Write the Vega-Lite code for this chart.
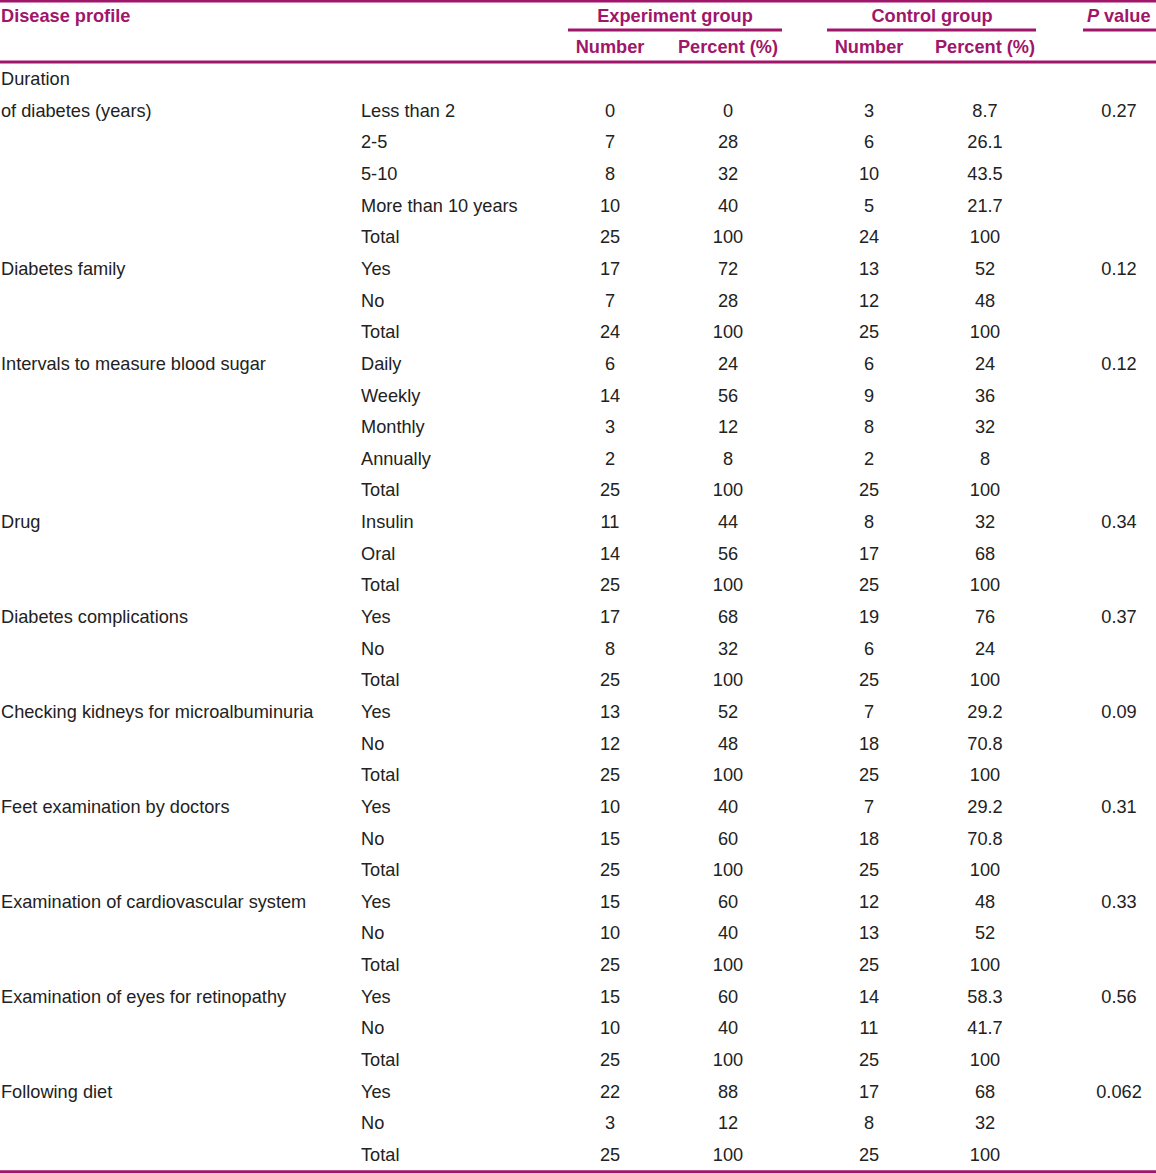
{
  "$schema": "https://vega.github.io/schema/vega-lite/v6.json",
  "autosize": {"type": "none"},
  "width": 1156,
  "height": 1174,
  "padding": 0,
  "background": "white",
  "config": {"view": {"stroke": null}},
  "datasets": {
    "body": [
      {"r": 2, "profile": "Duration"},
      {"r": 3, "profile": "of diabetes (years)", "cat": "Less than 2", "en": "0", "ep": "0", "cn": "3", "cp": "8.7", "p": "0.27"},
      {"r": 4, "cat": "2-5", "en": "7", "ep": "28", "cn": "6", "cp": "26.1"},
      {"r": 5, "cat": "5-10", "en": "8", "ep": "32", "cn": "10", "cp": "43.5"},
      {"r": 6, "cat": "More than 10 years", "en": "10", "ep": "40", "cn": "5", "cp": "21.7"},
      {"r": 7, "cat": "Total", "en": "25", "ep": "100", "cn": "24", "cp": "100"},
      {"r": 8, "profile": "Diabetes family", "cat": "Yes", "en": "17", "ep": "72", "cn": "13", "cp": "52", "p": "0.12"},
      {"r": 9, "cat": "No", "en": "7", "ep": "28", "cn": "12", "cp": "48"},
      {"r": 10, "cat": "Total", "en": "24", "ep": "100", "cn": "25", "cp": "100"},
      {"r": 11, "profile": "Intervals to measure blood sugar", "cat": "Daily", "en": "6", "ep": "24", "cn": "6", "cp": "24", "p": "0.12"},
      {"r": 12, "cat": "Weekly", "en": "14", "ep": "56", "cn": "9", "cp": "36"},
      {"r": 13, "cat": "Monthly", "en": "3", "ep": "12", "cn": "8", "cp": "32"},
      {"r": 14, "cat": "Annually", "en": "2", "ep": "8", "cn": "2", "cp": "8"},
      {"r": 15, "cat": "Total", "en": "25", "ep": "100", "cn": "25", "cp": "100"},
      {"r": 16, "profile": "Drug", "cat": "Insulin", "en": "11", "ep": "44", "cn": "8", "cp": "32", "p": "0.34"},
      {"r": 17, "cat": "Oral", "en": "14", "ep": "56", "cn": "17", "cp": "68"},
      {"r": 18, "cat": "Total", "en": "25", "ep": "100", "cn": "25", "cp": "100"},
      {"r": 19, "profile": "Diabetes complications", "cat": "Yes", "en": "17", "ep": "68", "cn": "19", "cp": "76", "p": "0.37"},
      {"r": 20, "cat": "No", "en": "8", "ep": "32", "cn": "6", "cp": "24"},
      {"r": 21, "cat": "Total", "en": "25", "ep": "100", "cn": "25", "cp": "100"},
      {"r": 22, "profile": "Checking kidneys for microalbuminuria", "cat": "Yes", "en": "13", "ep": "52", "cn": "7", "cp": "29.2", "p": "0.09"},
      {"r": 23, "cat": "No", "en": "12", "ep": "48", "cn": "18", "cp": "70.8"},
      {"r": 24, "cat": "Total", "en": "25", "ep": "100", "cn": "25", "cp": "100"},
      {"r": 25, "profile": "Feet examination by doctors", "cat": "Yes", "en": "10", "ep": "40", "cn": "7", "cp": "29.2", "p": "0.31"},
      {"r": 26, "cat": "No", "en": "15", "ep": "60", "cn": "18", "cp": "70.8"},
      {"r": 27, "cat": "Total", "en": "25", "ep": "100", "cn": "25", "cp": "100"},
      {"r": 28, "profile": "Examination of cardiovascular system", "cat": "Yes", "en": "15", "ep": "60", "cn": "12", "cp": "48", "p": "0.33"},
      {"r": 29, "cat": "No", "en": "10", "ep": "40", "cn": "13", "cp": "52"},
      {"r": 30, "cat": "Total", "en": "25", "ep": "100", "cn": "25", "cp": "100"},
      {"r": 31, "profile": "Examination of eyes for retinopathy", "cat": "Yes", "en": "15", "ep": "60", "cn": "14", "cp": "58.3", "p": "0.56"},
      {"r": 32, "cat": "No", "en": "10", "ep": "40", "cn": "11", "cp": "41.7"},
      {"r": 33, "cat": "Total", "en": "25", "ep": "100", "cn": "25", "cp": "100"},
      {"r": 34, "profile": "Following diet", "cat": "Yes", "en": "22", "ep": "88", "cn": "17", "cp": "68", "p": "0.062"},
      {"r": 35, "cat": "No", "en": "3", "ep": "12", "cn": "8", "cp": "32"},
      {"r": 36, "cat": "Total", "en": "25", "ep": "100", "cn": "25", "cp": "100"}
    ],
    "headLeft": [
      {"r": 0, "c": 0, "t": "Disease profile"},
      {"r": 0, "c": 15, "t": "value"}
    ],
    "headCenter": [
      {"r": 0, "c": 5, "t": "Experiment group"},
      {"r": 0, "c": 10, "t": "Control group"},
      {"r": 1, "c": 4, "t": "Number"},
      {"r": 1, "c": 6, "t": "Percent (%)"},
      {"r": 1, "c": 9, "t": "Number"},
      {"r": 1, "c": 11, "t": "Percent (%)"}
    ],
    "headItalic": [
      {"r": 0, "c": 14, "t": "P"}
    ],
    "rules": [
      {"y": -0.5, "a": 1, "b": 17},
      {"y": 0.42, "a": 3, "b": 7},
      {"y": 0.42, "a": 8, "b": 12},
      {"y": 0.42, "a": 13, "b": 17},
      {"y": 1.43, "a": 1, "b": 17},
      {"y": 36.5, "a": 1, "b": 17}
    ]
  },
  "layer": [
    {
      "data": {"name": "rules"},
      "mark": {"type": "rule", "color": "#a0166a", "strokeWidth": 3},
      "encoding": {
        "x": {"field": "a", "type": "quantitative", "axis": null,
          "scale": {"domain": [0,1,2,3,4,5,6,7,8,9,10,11,12,13,14,15,16,17],
                    "range": [1,0,361,568,610,675,728,782,827,869,932,985,1036,1083,1087,1104,1119,1156], "nice": false, "zero": false}},
        "x2": {"field": "b"},
        "y": {"field": "y", "type": "quantitative", "axis": null, "scale": {"domain": [-0.53, 36.57], "nice": false, "zero": false, "reverse": true}}
      }
    },
    {
      "data": {"name": "body"},
      "transform": [{"filter": "datum.profile != null"}],
      "mark": {"type": "text", "align": "left", "baseline": "middle", "font": "Liberation Sans", "fontSize": 18.2, "color": "#222222"},
      "encoding": {
        "x": {"datum": 0, "type": "quantitative"},
        "y": {"field": "r", "type": "quantitative"},
        "text": {"field": "profile"}
      }
    },
    {
      "data": {"name": "body"},
      "transform": [{"filter": "datum.cat != null"}],
      "mark": {"type": "text", "align": "left", "baseline": "middle", "font": "Liberation Sans", "fontSize": 18.2, "color": "#222222"},
      "encoding": {
        "x": {"datum": 2, "type": "quantitative"},
        "y": {"field": "r", "type": "quantitative"},
        "text": {"field": "cat"}
      }
    },
    {
      "data": {"name": "body"},
      "transform": [{"filter": "datum.en != null"}],
      "mark": {"type": "text", "align": "center", "baseline": "middle", "font": "Liberation Sans", "fontSize": 18.2, "color": "#222222"},
      "encoding": {
        "x": {"datum": 4, "type": "quantitative"},
        "y": {"field": "r", "type": "quantitative"},
        "text": {"field": "en"}
      }
    },
    {
      "data": {"name": "body"},
      "transform": [{"filter": "datum.ep != null"}],
      "mark": {"type": "text", "align": "center", "baseline": "middle", "font": "Liberation Sans", "fontSize": 18.2, "color": "#222222"},
      "encoding": {
        "x": {"datum": 6, "type": "quantitative"},
        "y": {"field": "r", "type": "quantitative"},
        "text": {"field": "ep"}
      }
    },
    {
      "data": {"name": "body"},
      "transform": [{"filter": "datum.cn != null"}],
      "mark": {"type": "text", "align": "center", "baseline": "middle", "font": "Liberation Sans", "fontSize": 18.2, "color": "#222222"},
      "encoding": {
        "x": {"datum": 9, "type": "quantitative"},
        "y": {"field": "r", "type": "quantitative"},
        "text": {"field": "cn"}
      }
    },
    {
      "data": {"name": "body"},
      "transform": [{"filter": "datum.cp != null"}],
      "mark": {"type": "text", "align": "center", "baseline": "middle", "font": "Liberation Sans", "fontSize": 18.2, "color": "#222222"},
      "encoding": {
        "x": {"datum": 11, "type": "quantitative"},
        "y": {"field": "r", "type": "quantitative"},
        "text": {"field": "cp"}
      }
    },
    {
      "data": {"name": "body"},
      "transform": [{"filter": "datum.p != null"}],
      "mark": {"type": "text", "align": "center", "baseline": "middle", "font": "Liberation Sans", "fontSize": 18.2, "color": "#222222"},
      "encoding": {
        "x": {"datum": 16, "type": "quantitative"},
        "y": {"field": "r", "type": "quantitative"},
        "text": {"field": "p"}
      }
    },
    {
      "data": {"name": "headLeft"},
      "mark": {"type": "text", "align": "left", "baseline": "middle", "font": "Liberation Sans", "fontSize": 18.2, "fontWeight": "bold", "color": "#a0166a"},
      "encoding": {
        "x": {"field": "c", "type": "quantitative"},
        "y": {"field": "r", "type": "quantitative"},
        "text": {"field": "t"}
      }
    },
    {
      "data": {"name": "headItalic"},
      "mark": {"type": "text", "align": "left", "baseline": "middle", "font": "Liberation Sans", "fontSize": 18.2, "fontWeight": "bold", "fontStyle": "italic", "color": "#a0166a"},
      "encoding": {
        "x": {"field": "c", "type": "quantitative"},
        "y": {"field": "r", "type": "quantitative"},
        "text": {"field": "t"}
      }
    },
    {
      "data": {"name": "headCenter"},
      "mark": {"type": "text", "align": "center", "baseline": "middle", "font": "Liberation Sans", "fontSize": 18.2, "fontWeight": "bold", "color": "#a0166a"},
      "encoding": {
        "x": {"field": "c", "type": "quantitative"},
        "y": {"field": "r", "type": "quantitative"},
        "text": {"field": "t"}
      }
    }
  ]
}
